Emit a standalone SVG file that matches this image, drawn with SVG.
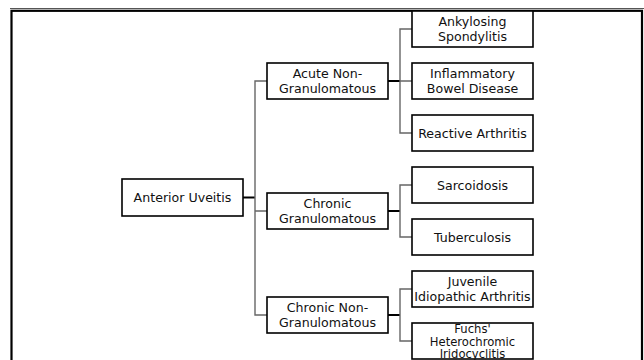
<svg xmlns="http://www.w3.org/2000/svg" width="644" height="360" viewBox="0 0 644 360">
  <style>
    .box { fill: #ffffff; stroke: #000000; stroke-width: 1.6; }
    .lbl { font-family: "DejaVu Sans", "Liberation Sans", sans-serif; font-size: 12.6px; fill: #111111; text-anchor: middle; }
    .sm { font-size: 11.6px; }
    .stem { fill: none; stroke: #000000; stroke-width: 2; }
    .branch { fill: none; stroke: #666666; stroke-width: 1.4; }
  </style>

  <!-- page frame -->
  <rect x="0" y="0" width="644" height="360" fill="#ffffff"/>
  <line x1="10" y1="8.5" x2="644" y2="8.5" stroke="#555555" stroke-width="1"/>
  <rect x="11.5" y="10.8" width="630.5" height="360" fill="none" stroke="#000000" stroke-width="2.2"/>

  <!-- connectors -->
  <g id="connectors">
    <!-- root to categories -->
    <path class="stem" d="M243 197.5 H255"/>
    <path class="branch" d="M267 81 H255 V315 H267 M255 211 H267"/>
    <!-- acute non-granulomatous to its conditions -->
    <path class="stem" d="M388 81 H400"/>
    <path class="branch" d="M412 29 H400 V133 H412 M400 81 H412"/>
    <!-- chronic granulomatous -->
    <path class="stem" d="M388 211 H400"/>
    <path class="branch" d="M412 185 H400 V237 H412"/>
    <!-- chronic non-granulomatous -->
    <path class="stem" d="M388 315 H400"/>
    <path class="branch" d="M412 289 H400 V341 H412"/>
  </g>

  <g id="anterior-uveitis">
    <rect class="box" x="122" y="179" width="121" height="37"/>
    <text class="lbl" x="182.5" y="201.5">Anterior Uveitis</text>
  </g>

  <g id="acute-non-granulomatous">
    <rect class="box" x="267" y="63" width="121" height="36"/>
    <text class="lbl" x="327.5" y="77.5">Acute Non-</text>
    <text class="lbl" x="327.5" y="92.5">Granulomatous</text>
  </g>

  <g id="chronic-granulomatous">
    <rect class="box" x="267" y="193" width="121" height="36"/>
    <text class="lbl" x="327.5" y="207.5">Chronic</text>
    <text class="lbl" x="327.5" y="222.5">Granulomatous</text>
  </g>

  <g id="chronic-non-granulomatous">
    <rect class="box" x="267" y="297" width="121" height="36"/>
    <text class="lbl" x="327.5" y="311.5">Chronic Non-</text>
    <text class="lbl" x="327.5" y="326.5">Granulomatous</text>
  </g>

  <g id="ankylosing-spondylitis">
    <rect class="box" x="412" y="11" width="121" height="36"/>
    <text class="lbl" x="472.5" y="25.5">Ankylosing</text>
    <text class="lbl" x="472.5" y="40.5">Spondylitis</text>
  </g>

  <g id="inflammatory-bowel-disease">
    <rect class="box" x="412" y="63" width="121" height="36"/>
    <text class="lbl" x="472.5" y="77.5">Inflammatory</text>
    <text class="lbl" x="472.5" y="92.5">Bowel Disease</text>
  </g>

  <g id="reactive-arthritis">
    <rect class="box" x="412" y="115" width="121" height="36"/>
    <text class="lbl" x="472.5" y="137.5">Reactive Arthritis</text>
  </g>

  <g id="sarcoidosis">
    <rect class="box" x="412" y="167" width="121" height="36"/>
    <text class="lbl" x="472.5" y="189.5">Sarcoidosis</text>
  </g>

  <g id="tuberculosis">
    <rect class="box" x="412" y="219" width="121" height="36"/>
    <text class="lbl" x="472.5" y="241.5">Tuberculosis</text>
  </g>

  <g id="juvenile-idiopathic-arthritis">
    <rect class="box" x="412" y="271" width="121" height="36"/>
    <text class="lbl" x="472.5" y="286">Juvenile</text>
    <text class="lbl" x="472.5" y="301">Idiopathic Arthritis</text>
  </g>

  <g id="fuchs-heterochromic-iridocyclitis">
    <rect class="box" x="412" y="323" width="121" height="36"/>
    <text class="lbl sm" x="472.5" y="333">Fuchs'</text>
    <text class="lbl sm" x="472.5" y="345.5">Heterochromic</text>
    <text class="lbl sm" x="472.5" y="358">Iridocyclitis</text>
  </g>
</svg>
